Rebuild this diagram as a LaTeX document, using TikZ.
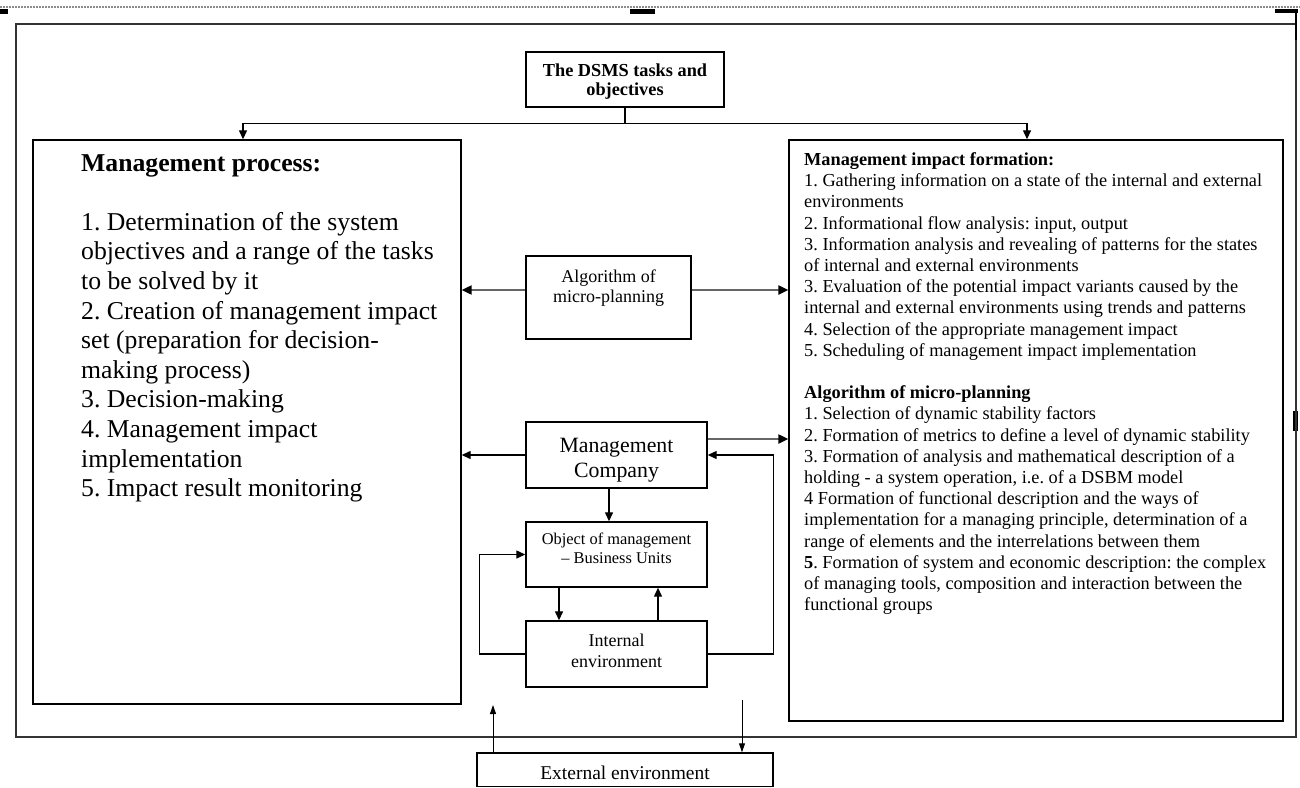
\documentclass[tikz,border=0pt]{standalone}
\usepackage{fontspec}
\setmainfont{Liberation Serif}
\usetikzlibrary{arrows.meta,calc}
\begin{document}
\frenchspacing
\begin{tikzpicture}[x=1pt,y=-1pt,
  box/.style={draw=black, line width=1.4pt, inner sep=0pt, align=center},
  plain/.style={draw=black, line width=1.3pt},
  arr/.style={draw=black, line width=1.3pt, -{Triangle[length=9pt,width=8pt]}},
  thinarr/.style={draw=black, line width=0.9pt, -{Triangle[length=9pt,width=6pt]}},
  garr/.style={draw=black!60, line width=2.2pt, -{Triangle[length=10pt,width=9pt,color=black]}},
  txt/.style={inner sep=0pt, anchor=north west, align=left},
  ctxt/.style={inner sep=0pt, anchor=north, align=center}
]
\useasboundingbox (0,0) rectangle (1300,787);
% page artefacts
\draw[black!45, line width=1.4pt, dash pattern=on 2pt off 1pt] (0,7) -- (1300,7);
\fill (0,9) rectangle (8,14);
\fill (630,9) rectangle (655,14);
\fill (1275,9) rectangle (1298,13);
\fill (1293,411) rectangle (1298,431);
% outer frame
\draw[black!80, line width=2pt] (16,24) rectangle (1296,737);
\draw[black, line width=1.2pt] (1296,9) -- (1296,40);

% nodes
\node[box, minimum width=198pt, minimum height=55pt] (top) at (625,79.5) {};
\node[ctxt, font=\bfseries\fontsize{18.3}{19.5}\selectfont] (toptxt) at ([yshift=-12pt]top.north) {The DSMS tasks and\\objectives};
\node[box, minimum width=428pt, minimum height=564pt] (mp) at (247,422) {};
\node[txt, font=\fontsize{25.7}{29.6}\selectfont] (mptxt) at (81,154) {\textbf{Management process:}\\[29.6pt]
1. Determination of the system\\
objectives and a range of the tasks\\
to be solved by it\\
2. Creation of management impact\\
set (preparation for decision-\\
making process)\\
3. Decision-making\\
4. Management impact\\
implementation\\
5. Impact result monitoring};
\node[box, minimum width=494pt, minimum height=581pt] (rb) at (1036,430.5) {};
\node[txt, font=\fontsize{18.3}{21.2}\selectfont] (rbtxt) at (804,152.4) {\textbf{Management impact formation:}\\
1. Gathering information on a state of the internal and external\\
environments\\
2. Informational flow analysis: input, output\\
3. Information analysis and revealing of patterns for the states\\
of internal and external environments\\
3. Evaluation of the potential impact variants caused by the\\
internal and external environments using trends and patterns\\
4. Selection of the appropriate management impact\\
5. Scheduling of management impact implementation\\[21.2pt]
\textbf{Algorithm of micro-planning}\\
1. Selection of dynamic stability factors\\
2. Formation of metrics to define a level of dynamic stability\\
3. Formation of analysis and mathematical description of a\\
holding - a system operation, i.e. of a DSBM model\\
4 Formation of functional description and the ways of\\
implementation for a managing principle, determination of a\\
range of elements and the interrelations between them\\
\textbf{5}. Formation of system and economic description: the complex\\
of managing tools, composition and interaction between the\\
functional groups};
\node[box, minimum width=165pt, minimum height=83pt] (alg) at (608.5,297.5) {};
\node[ctxt, font=\fontsize{18}{20.7}\selectfont] (algtxt) at ([yshift=-14pt]alg.north) {Algorithm of\\micro-planning};
\node[box, minimum width=181pt, minimum height=66pt] (mc) at (616.5,455) {};
\node[ctxt, font=\fontsize{21.8}{25}\selectfont] (mctxt) at ([yshift=-16.6pt]mc.north) {Management\\Company};
\node[box, minimum width=181pt, minimum height=65pt] (oom) at (616.5,554.5) {};
\node[ctxt, font=\fontsize{16.4}{19}\selectfont] (oomtxt) at ([yshift=-11pt]oom.north) {Object of management\\– Business Units};
\node[box, minimum width=181pt, minimum height=66pt] (ie) at (616.5,654) {};
\node[ctxt, font=\fontsize{18}{21}\selectfont] (ietxt) at ([yshift=-14pt]ie.north) {Internal\\environment};
\node[box, minimum width=296pt, minimum height=33.5pt] (ext) at (625,769.75) {};
\node[ctxt, font=\fontsize{19.5}{22}\selectfont] (exttxt) at ([yshift=-13.5pt]ext.north) {External environment};

% connectors
\draw[plain] (top.south) -- ++(0,16) coordinate (tj);
\draw[arr] (tj) -| ([xshift=-4pt]mp.north);
\draw[arr] (tj) -| ([xshift=-9pt]rb.north);
\draw[garr] ([yshift=7.5pt]alg.west) -- ([yshift=7.5pt]alg.west -| mp.east);
\draw[garr] ([yshift=7.5pt]alg.east) -- ([yshift=7.5pt]alg.east -| rb.west);
\draw[garr] ([yshift=16pt]mc.east) -- ([yshift=16pt]mc.east -| rb.west);
\draw[arr] (mc.west) -- (mc.west -| mp.east);
\draw[arr] ([xshift=-7.5pt]mc.south) -- ([xshift=-7.5pt]oom.north);
\draw[arr] ([xshift=-57.5pt]oom.south) -- ([xshift=-57.5pt]ie.north);
\draw[arr] ([xshift=41.5pt]ie.north) -- ([xshift=41.5pt]oom.south);
\draw[arr] (ie.west) -- ++(-46,0) |- (oom.west);
\draw[arr] (ie.east) -- ++(66,0) |- (mc.east);
\coordinate (eu) at (493,705);
\coordinate (ed) at (742,700);
\draw[thinarr] (ext.north -| eu) -- (eu);
\draw[thinarr] (ed) -- (ed |- ext.north);
\end{tikzpicture}
\end{document}
